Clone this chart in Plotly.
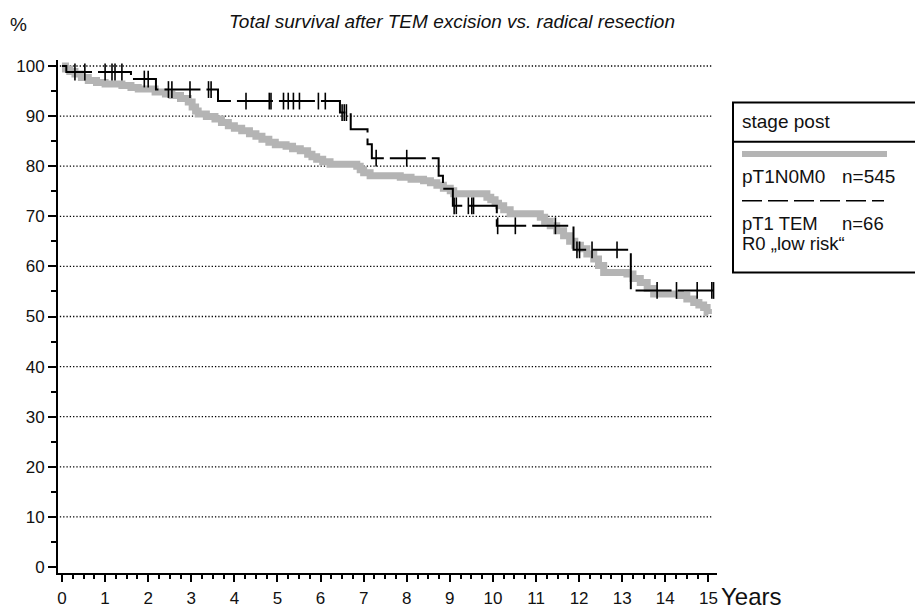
import numpy as np
import plotly.graph_objects as go

# ---------------- data ----------------
# pT1N0M0 (radical resection), n=545 : step curve, years / survival %
rad_t = [0, 0.08, 0.18, 0.30, 0.45, 0.61, 0.80, 1.00, 1.39, 1.60, 1.77, 2.16, 2.40, 2.55,
         2.75, 2.93, 3.02, 3.10, 3.16, 3.35, 3.55, 3.70, 3.86, 4.00, 4.17, 4.35, 4.50,
         4.64, 4.80, 4.95, 5.20, 5.35, 5.53, 5.70, 5.80, 5.91, 6.05, 6.22, 6.84, 6.92,
         7.00, 7.15, 7.85, 8.10, 8.39, 8.55, 8.70, 8.85, 9.01, 9.09, 9.86, 9.95, 10.05,
         10.13, 10.25, 10.40, 11.10, 11.20, 11.33, 11.48, 11.64, 11.78, 11.90, 12.03,
         12.18, 12.34, 12.45, 12.57, 13.11, 13.25, 13.42, 13.58, 13.73, 14.35, 14.50,
         14.66, 14.78, 14.89, 14.97, 15.00]
rad_s = [100, 99.4, 98.9, 98.4, 97.7, 97.1, 96.7, 96.4, 96.1, 95.7, 95.4, 94.8, 94.4, 94.1,
         93.5, 92.8, 91.8, 91.0, 90.4, 89.9, 89.4, 88.7, 88.1, 87.6, 87.1, 86.5, 86.0,
         85.4, 84.8, 84.3, 84.0, 83.5, 83.1, 82.4, 81.9, 81.4, 80.9, 80.4, 80.0, 79.3,
         78.7, 78.1, 77.8, 77.4, 77.1, 76.7, 76.2, 75.6, 75.1, 74.5, 73.8, 73.3, 72.6,
         72.1, 71.3, 70.5, 69.8, 69.0, 68.1, 67.1, 66.1, 65.0, 64.2, 63.5,
         62.5, 61.5, 60.2, 58.8, 58.5, 57.6, 56.8, 55.6, 54.5, 54.2, 53.5,
         52.8, 52.3, 51.8, 50.8, 50.5]

# pT1 TEM R0 "low risk", n=66 : event times / survival after each step
tem_t = [0, 0.10, 1.60, 2.18, 3.62, 6.45, 6.70, 7.09, 7.19, 8.74, 8.84, 9.07, 10.09, 11.87, 13.20, 15.20]
tem_s = [100, 98.8, 97.4, 95.3, 93.0, 90.7, 87.4, 84.4, 81.6, 78.1, 75.5, 72.1, 68.1, 63.3, 55.2, 55.2]
# censored observations (years)
tem_cens = [0.30, 0.53, 1.00, 1.16, 1.23, 1.39, 1.91, 2.00, 2.47, 2.55, 2.97, 3.40, 3.46,
            4.27, 4.81, 4.85, 5.14, 5.25, 5.37, 5.51, 5.95, 6.11, 6.50, 6.55, 6.60,
            7.29, 8.00, 9.10, 9.15, 9.43, 9.51, 9.55, 10.11, 10.52, 11.45,
            11.95, 12.01, 12.30, 12.88, 13.81, 14.26, 14.74, 15.08, 15.12]

y_ticks = list(range(0, 101, 10))
y_grid = list(range(10, 101, 10))
x_ticks = list(range(0, 16))

title_text = "Total survival after TEM excision vs. radical resection"
legend_title = "stage post"
lab_rad = ("pT1N0M0", "n=545")
lab_tem = ("pT1 TEM", "n=66", "R0 \u201elow risk\u201c")

# ---------------- figure ----------------
W, H = 915, 609
L, R, T, B = 58, 198, 60, 36
pw, ph = W - L - R, H - T - B
def px_x(p):
    return (p - L) / pw
def px_y(p):
    return (H - B - p) / ph

FONT = "Liberation Sans, Arial, sans-serif"

fig = go.Figure()

fig.add_trace(go.Scatter(x=rad_t, y=rad_s, mode="lines", line_shape="hv",
                         line=dict(color="#b4b4b4", width=7), hoverinfo="skip"))

fig.add_trace(go.Scatter(x=tem_t, y=tem_s, mode="lines", line_shape="hv",
                         line=dict(color="black", width=2, dash="36px,6px"), hoverinfo="skip"))

ct = np.array(tem_t)
cs = np.array(tem_s)
cens_y = [float(cs[np.searchsorted(ct, c, side="right") - 1]) for c in tem_cens]
fig.add_trace(go.Scatter(x=tem_cens, y=cens_y, mode="markers",
                         marker=dict(symbol="line-ns", size=12,
                                     line=dict(color="black", width=1.6)),
                         cliponaxis=False, hoverinfo="skip"))

shapes = []
for g in y_grid:
    shapes.append(dict(type="line", xref="x", yref="y", x0=-0.05, x1=15.08, y0=g, y1=g,
                       line=dict(color="black", width=1.3, dash="1.3px,2px"), layer="below"))

# legend box
shapes.append(dict(type="rect", xref="paper", yref="paper",
                   x0=px_x(733), x1=px_x(925), y0=px_y(272.5), y1=px_y(102.5),
                   line=dict(color="black", width=2)))
shapes.append(dict(type="line", xref="paper", yref="paper",
                   x0=px_x(733), x1=px_x(925), y0=px_y(141.7), y1=px_y(141.7),
                   line=dict(color="black", width=2)))
shapes.append(dict(type="line", xref="paper", yref="paper",
                   x0=px_x(742), x1=px_x(887), y0=px_y(154), y1=px_y(154),
                   line=dict(color="#b4b4b4", width=6)))
shapes.append(dict(type="line", xref="paper", yref="paper",
                   x0=px_x(742), x1=px_x(884), y0=px_y(200.7), y1=px_y(200.7),
                   line=dict(color="black", width=1.5, dash="20px,6px")))

ann = []
def txt(x, y, s, size, anchor="left", italic=False):
    ann.append(dict(xref="paper", yref="paper", x=px_x(x), y=px_y(y), text=s,
                    showarrow=False, xanchor=anchor, yanchor="middle",
                    font=dict(family=FONT, size=size, color="#111",
                              style="italic" if italic else "normal")))

txt(8, 24, "%", 19)
txt(452, 21, title_text, 19, anchor="center", italic=True)
txt(719, 596, "Years", 24)
txt(740, 121, legend_title, 19)
txt(740, 176, lab_rad[0], 19)
txt(840, 176, lab_rad[1], 19)
txt(740, 223, lab_tem[0], 18.5)
txt(840, 223, lab_tem[1], 18.5)
txt(740, 243, lab_tem[2], 18.5)

fig.update_layout(
    width=W, height=H, margin=dict(l=L, r=R, t=T, b=B, autoexpand=False),
    paper_bgcolor="white", plot_bgcolor="white", showlegend=False,
    shapes=shapes, annotations=ann,
    font=dict(family=FONT, size=17, color="#111"),
    xaxis=dict(range=[-0.093, 15.2], tickmode="array", tickvals=x_ticks,
               ticktext=[str(v) for v in x_ticks], automargin=False,
               showgrid=False, zeroline=False, showline=True, linecolor="black", linewidth=2,
               ticks="outside", ticklen=7, tickwidth=2, tickcolor="black",
               ticklabelstandoff=2,
               minor=dict(dtick=0.25, tick0=0, ticks="outside", ticklen=4, tickwidth=1.5,
                          tickcolor="black", showgrid=False),
               tickfont=dict(size=17), fixedrange=True),
    yaxis=dict(range=[-1.2, 101.2], tickmode="array", tickvals=y_ticks,
               ticktext=[str(v) for v in y_ticks], automargin=False,
               showgrid=False, zeroline=False, showline=True, linecolor="black", linewidth=2,
               ticks="outside", ticklen=8, tickwidth=2, tickcolor="black",
               minor=dict(dtick=5, tick0=0, ticks="outside", ticklen=5, tickwidth=2,
                          tickcolor="black", showgrid=False),
               tickfont=dict(size=17), fixedrange=True),
)

fig.write_html("out.html", config={"displayModeBar": False},
               post_script="document.body.style.margin='0';"
               "document.body.style.overflow='hidden';")
